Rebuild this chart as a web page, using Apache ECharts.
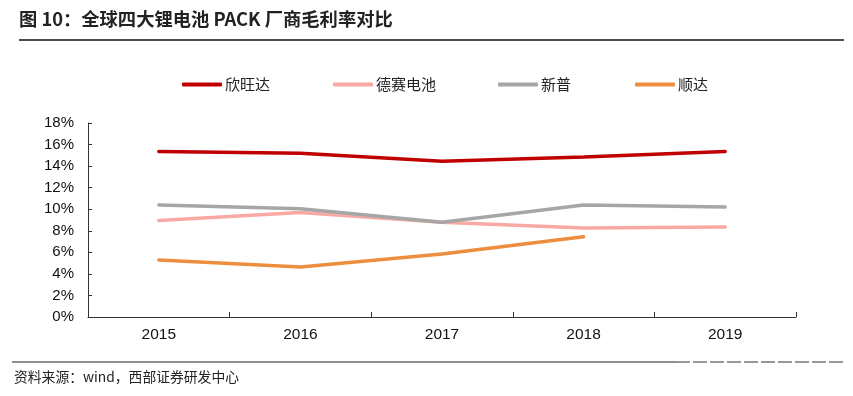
<!DOCTYPE html>
<html>
<head>
<meta charset="utf-8">
<script src="https://cdn.jsdelivr.net/npm/echarts@6/dist/echarts.min.js"></script>
<style>
  html, body { margin: 0; padding: 0; background: #fff; }
  #chart { width: 853px; height: 396px; }
</style>
</head>
<body>
<div id="chart"></div>
<script>
const years = ['2015', '2016', '2017', '2018', '2019']
const seriesNames = ['欣旺达', '德赛电池', '新普', '顺达']
const sunwoda = [15.35, 15.2, 14.45, 14.85, 15.35]
const desay = [8.95, 9.7, 8.8, 8.25, 8.35]
const simplo = [10.4, 10.05, 8.8, 10.4, 10.2]
const dynapack = [5.3, 4.65, 5.85, 7.45, null]
const yTicks = [0, 2, 4, 6, 8, 10, 12, 14, 16, 18]

const fontFamily = 'Liberation Sans, Arial, Noto Sans CJK SC, sans-serif'
const cjk = 'Noto Sans CJK SC, sans-serif'
const colors = ['#C00000', '#F8A9A4', '#A6A6A6', '#ED8E3E']
const legendLeft = [182, 333, 498, 635]

const chart = echarts.init(document.getElementById('chart'))

function line(name, data, color) {
  return {
    name: name,
    type: 'line',
    data: data,
    symbol: 'none',
    lineStyle: { color: color, width: 3.5, cap: 'round' },
    itemStyle: { color: color },
    animation: false
  }
}

// one legend per item so each sits where the original has it
const legends = seriesNames.map((n, i) => ({
  top: 77,
  left: legendLeft[i],
  padding: 0,
  itemWidth: 40,
  itemHeight: 4,
  itemGap: 0,
  icon: 'roundRect',
  textStyle: { fontSize: 15, color: '#222', fontFamily: cjk, padding: [0, 0, 0, -2] },
  data: [n]
}))

chart.setOption({
  backgroundColor: '#fff',
  textStyle: { fontFamily: fontFamily },
  graphic: [
    {
      type: 'text', left: 19, top: 10,
      style: { text: '图 10：全球四大锂电池 PACK 厂商毛利率对比', font: 'bold 18.3px ' + cjk, fill: '#222' }
    },
    { type: 'line', shape: { x1: 19, y1: 40, x2: 844, y2: 40 }, style: { stroke: '#111', lineWidth: 1.5 } },
    { type: 'line', shape: { x1: 12, y1: 362, x2: 676, y2: 362 }, style: { stroke: '#222', lineWidth: 1.2 } },
    { type: 'line', shape: { x1: 676, y1: 362, x2: 845, y2: 362 }, style: { stroke: '#333', lineWidth: 1.2, lineDash: [14, 3] } },
    {
      type: 'text', left: 14, top: 370,
      style: { text: '资料来源：wind，西部证券研发中心', font: '13.8px ' + cjk, fill: '#222' }
    }
  ],
  legend: legends,
  grid: { left: 88, right: 57, top: 123, bottom: 79, containLabel: false },
  xAxis: {
    type: 'category',
    data: years,
    boundaryGap: true,
    axisLine: { lineStyle: { color: '#333', width: 1 } },
    axisTick: { show: true, inside: true, length: 5, lineStyle: { color: '#333' } },
    axisLabel: { color: '#111', fontSize: 15.5, margin: 10 },
    splitLine: { show: false }
  },
  yAxis: {
    type: 'value',
    min: yTicks[0],
    max: yTicks[yTicks.length - 1],
    interval: 2,
    axisLine: { show: true, lineStyle: { color: '#333', width: 1 } },
    axisTick: { show: true, inside: true, length: 4, lineStyle: { color: '#333' } },
    axisLabel: { color: '#111', fontSize: 15, margin: 14, formatter: '{value}%' },
    splitLine: { show: false }
  },
  series: seriesNames.map((n, i) => line(n, [sunwoda, desay, simplo, dynapack][i], colors[i]))
})
</script>
</body>
</html>
